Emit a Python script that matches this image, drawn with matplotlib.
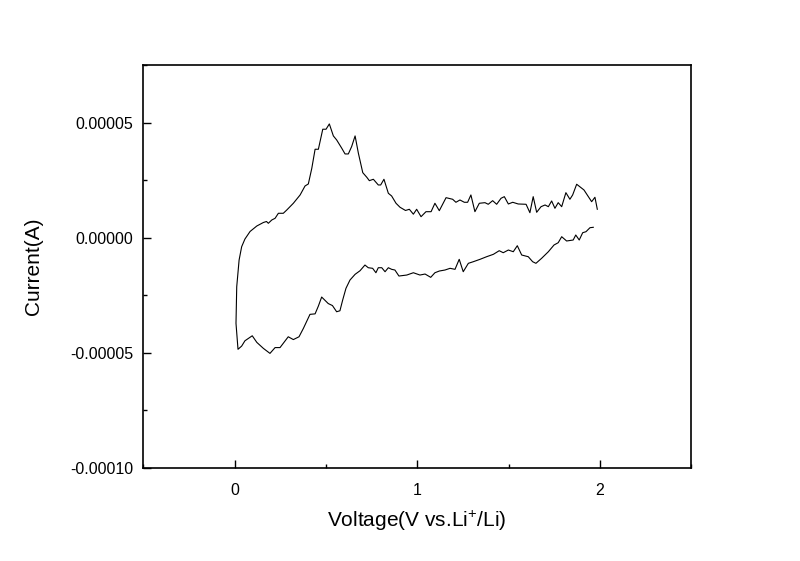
import numpy as np
import matplotlib
matplotlib.use("Agg")
import matplotlib.pyplot as plt
from matplotlib.ticker import MultipleLocator, FormatStrFormatter

# cathodic sweep, 2 V -> 0 V, current in uA
v_neg = [1.964, 1.946, 1.924, 1.906, 1.887, 1.868, 1.854, 1.818, 1.791, 1.772,
         1.749, 1.718, 1.681, 1.650, 1.632, 1.608, 1.572, 1.548, 1.526, 1.499,
         1.471, 1.449, 1.417, 1.380, 1.344, 1.307, 1.280, 1.252, 1.230, 1.207,
         1.180, 1.152, 1.121, 1.097, 1.074, 1.043, 1.015, 0.979, 0.943, 0.900,
         0.878, 0.860, 0.842, 0.824, 0.806, 0.787, 0.774, 0.756, 0.732, 0.714,
         0.687, 0.660, 0.632, 0.610, 0.592, 0.577, 0.559, 0.536, 0.513, 0.477,
         0.459, 0.441, 0.413, 0.377, 0.353, 0.322, 0.294, 0.271, 0.249, 0.222,
         0.194, 0.158, 0.122, 0.097, 0.076, 0.057, 0.039, 0.019, 0.008, 0.012,
         0.025, 0.039]
i_neg = [4.52, 4.35, 2.61, 2.17, -1.00, 1.17, -1.00, -1.43, 0.43, -2.17,
         -3.17, -6.09, -8.96, -11.13, -10.43, -8.26, -7.52, -3.48, -6.09, -5.35,
         -6.52, -5.65, -7.22, -8.26, -9.39, -10.43, -11.13, -14.78, -9.39, -13.74,
         -13.30, -14.04, -14.48, -15.22, -17.22, -15.78, -16.22, -15.22, -16.22, -16.65,
         -14.04, -13.74, -13.04, -14.78, -13.04, -13.04, -15.22, -13.30, -13.04, -11.87,
         -14.35, -15.91, -18.39, -22.00, -27.09, -31.74, -32.17, -29.48, -28.61, -25.78,
         -29.70, -33.09, -33.30, -39.39, -43.04, -44.26, -43.04, -45.48, -47.74, -47.74,
         -50.26, -48.09, -45.48, -42.61, -43.74, -44.78, -47.09, -48.48, -37.22, -21.30,
         -9.70, -3.91]

# anodic sweep, 0 V -> 2 V
v_pos = [0.057, 0.085, 0.122, 0.158, 0.175, 0.185, 0.204, 0.222, 0.240, 0.267,
         0.286, 0.322, 0.359, 0.386, 0.404, 0.423, 0.441, 0.459, 0.483, 0.501,
         0.519, 0.541, 0.559, 0.587, 0.605, 0.623, 0.641, 0.660, 0.678, 0.702,
         0.724, 0.738, 0.760, 0.787, 0.800, 0.818, 0.842, 0.860, 0.884, 0.906,
         0.936, 0.957, 0.979, 0.997, 1.021, 1.048, 1.076, 1.097, 1.121, 1.158,
         1.194, 1.212, 1.234, 1.258, 1.276, 1.294, 1.316, 1.340, 1.371, 1.389,
         1.413, 1.435, 1.459, 1.477, 1.499, 1.523, 1.553, 1.596, 1.617, 1.635,
         1.654, 1.678, 1.700, 1.718, 1.736, 1.754, 1.772, 1.791, 1.814, 1.836,
         1.851, 1.873, 1.913, 1.937, 1.955, 1.973, 1.986]
i_pos = [-0.57, 2.70, 5.09, 6.61, 7.04, 6.26, 7.70, 8.43, 10.61, 10.61,
         12.04, 14.96, 18.57, 22.48, 23.35, 30.17, 38.43, 38.43, 47.13, 47.13,
         49.43, 44.22, 42.48, 38.87, 36.39, 36.39, 39.57, 44.22, 36.70, 28.26,
         26.26, 24.78, 25.39, 22.91, 22.91, 25.39, 19.30, 18.13, 14.96, 13.22,
         11.83, 12.35, 10.22, 12.35, 9.13, 11.30, 11.30, 14.96, 11.74, 17.39,
         16.70, 15.39, 16.39, 15.39, 15.39, 18.57, 11.30, 14.96, 15.22, 14.52,
         16.09, 14.52, 17.13, 17.83, 14.65, 15.39, 14.65, 14.52, 10.87, 17.83,
         11.04, 13.48, 14.22, 13.48, 15.96, 12.78, 15.22, 13.48, 19.57, 16.70,
         18.57, 23.22, 20.74, 17.83, 15.65, 17.57, 12.35]

V = np.array(v_neg + v_pos)
I = np.array(i_neg + i_pos) * 1e-6

plt.rcParams['font.family'] = ['Liberation Sans', 'DejaVu Sans']
plt.rcParams['mathtext.fontset'] = 'custom'
plt.rcParams['mathtext.rm'] = 'Liberation Sans'

fig = plt.figure(figsize=(8.0, 5.61), dpi=100)
ax = fig.add_axes([0.179, 0.166, 0.685, 0.718])
ax.plot(V, I, c='k', lw=0.8)

ax.set_xlim(-0.5, 2.5)
ax.set_ylim(-0.0001, 0.000075)
ax.xaxis.set_major_locator(MultipleLocator(1))
ax.xaxis.set_minor_locator(MultipleLocator(0.5))
ax.yaxis.set_major_locator(MultipleLocator(0.00005))
ax.yaxis.set_minor_locator(MultipleLocator(0.000025))
ax.xaxis.set_major_formatter(FormatStrFormatter('%d'))
ax.yaxis.set_major_formatter(FormatStrFormatter('%.5f'))
ax.tick_params(which='both', direction='in', top=False, right=False, width=1.0)
ax.tick_params(which='major', length=6, labelsize=11.5)
ax.tick_params(which='minor', length=3)
ax.tick_params(axis='x', which='major', pad=11)
ax.tick_params(axis='y', which='major', pad=7)
for s in ax.spines.values():
    s.set_linewidth(1.2)

ax.set_xlabel(r"Voltage(V vs.Li$^{\mathrm{+}}$/Li)", fontsize=15)
ax.set_ylabel("Current(A)", fontsize=15)
ax.xaxis.set_label_coords(0.5, -0.10)
ax.yaxis.set_label_coords(-0.183, 0.5)

fig.savefig("out.png", dpi=100)
